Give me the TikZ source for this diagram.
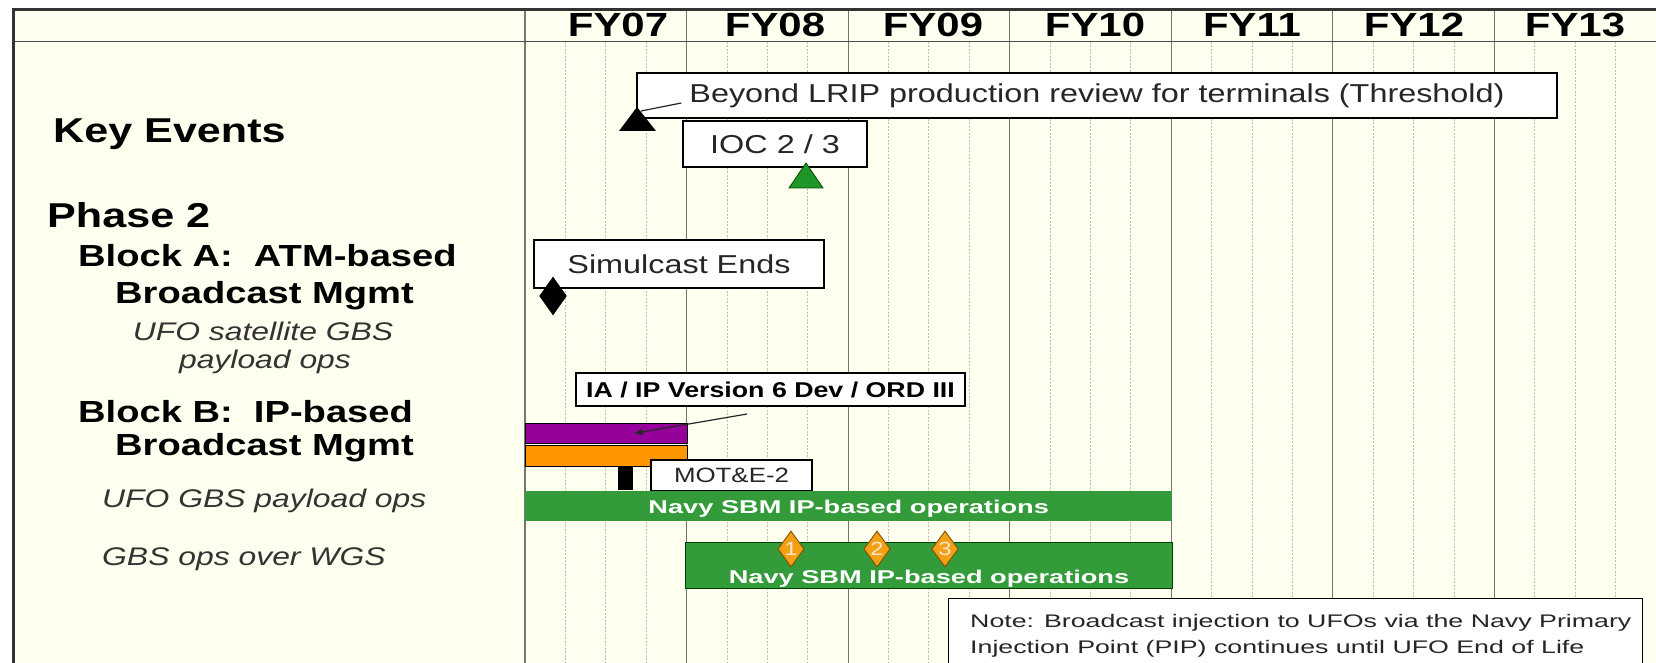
\documentclass[tikz,border=0pt]{standalone}
\usepackage{fontspec}
\setmainfont{Liberation Sans}[FakeStretch=1.25]
\newfontfamily\widefont{Liberation Sans}[FakeStretch=1.47]
\usetikzlibrary{shapes.geometric,arrows.meta}

\definecolor{paper}{RGB}{255,255,240}
\definecolor{gridmajor}{RGB}{118,118,110}
\definecolor{gridminor}{RGB}{192,192,182}
\definecolor{barpurple}{RGB}{150,0,155}
\definecolor{barorange}{RGB}{255,150,0}
\definecolor{bargreen}{RGB}{52,155,58}
\definecolor{ivgreen}{RGB}{30,150,40}
\definecolor{msorange}{RGB}{244,160,20}
\definecolor{msedge}{RGB}{130,80,0}

\tikzset{
  evbox/.style={draw=black, line width=1.3pt, fill=white, inner sep=0pt,
    text=black!85, font=\fontsize{25.9}{25.9}\selectfont},
  leftbold/.style={inner sep=0pt, anchor=base west, font=\bfseries\fontsize{30.5}{30.5}\selectfont},
  lefthead/.style={inner sep=0pt, anchor=base west, font=\bfseries\fontsize{34.5}{34.5}\selectfont},
  leftital/.style={inner sep=0pt, text=black!80, font=\itshape\fontsize{25.5}{25.5}\selectfont},
  yearlab/.style={inner sep=0pt, anchor=base, font=\bfseries\fontsize{33.5}{33.5}\selectfont},
  minorgrid/.style={draw=gridminor, line width=0.9pt, dash pattern=on 2pt off 1.5pt},
  majorgrid/.style={draw=gridmajor, line width=1.2pt},
  bar/.style={anchor=north west, inner sep=0pt, draw=black, line width=1pt},
  navytext/.style={text=white, inner sep=0pt, anchor=base, font=\widefont\bfseries\fontsize{18.5}{18.5}\selectfont},
  milestone/.style={shape=diamond, draw=msedge, line width=0.9pt, fill=msorange,
    minimum width=25pt, minimum height=36pt, inner sep=0pt,
    text=white!80!orange, font=\fontsize{19}{19}\selectfont},
  callout/.style={draw=black!85, line width=1.2pt},
  notetext/.style={inner sep=0pt, anchor=base west, text=black!85,
    font=\widefont\fontsize{18.2}{18.2}\selectfont}
}

\begin{document}
\begin{tikzpicture}[x=1pt,y=-1pt]
\clip (0,0) rectangle (1656,663);
\fill[white] (0,0) rectangle (1656,663);
\fill[paper] (13,10) rectangle (1656,663);

% quarter lines and year dividers
\foreach \k in {0,...,6}{
  \foreach \q in {1,2,3}{
    \draw[minorgrid] ({525+161.57*\k+40.39*\q},42) -- ++(0,630);
  }
}
\foreach \k in {0,...,6}{
  \draw[majorgrid] ({525+161.57*\k},10) -- ++(0,660);
}

% frame and header rule
\draw[line width=1.8pt, black!70] (13.5,41.5) -- (1656,41.5);
\draw[line width=3pt, black!80] (13.5,680) -- (13.5,10) -- (1656,10);

% fiscal years
\foreach \lab/\xc [count=\i from 0] in {FY07/618,FY08/775,FY09/933,FY10/1095,FY11/1252,FY12/1414,FY13/1575}{
  \node[yearlab] (fy\i) at (\xc,37) {\lab};
}

% row titles
\node[lefthead] (keyev) at (53,143) {Key Events};
\node[lefthead] (phase) at (47,227) {Phase 2};
\node[leftbold] (blkAa) at (78,266) {Block A:\ \ ATM-based};
\node[leftbold] (blkAb) at (115,303) {Broadcast Mgmt};
\node[leftital, anchor=base] (ufoAa) at (263,340) {UFO satellite GBS};
\node[leftital, anchor=base] (ufoAb) at (265,368) {payload ops};
\node[leftbold] (blkBa) at (78,422) {Block B:\ \ IP-based};
\node[leftbold] (blkBb) at (115,455) {Broadcast Mgmt};
\node[leftital, anchor=base west] (ufoB) at (102,507) {UFO GBS payload ops};
\node[leftital, anchor=base west] (wgs) at (102,565) {GBS ops over WGS};

% key events
\node[evbox, minimum width=920pt, minimum height=45pt] (lrip) at (1097,95.5)
  {Beyond LRIP production review for terminals (Threshold)};
\node[evbox, minimum width=184pt, minimum height=46pt] (ioc) at (775,144) {IOC 2 / 3};
\coordinate (lripTail) at ([xshift=45pt,yshift=-7.5pt]lrip.west);
\coordinate (lripMark) at (641,111);
\draw[callout] (lripTail) -- (lripMark);
\fill[black] (637,107) -- (656,131) -- (619,131) -- cycle;
\filldraw[fill=ivgreen, draw=black!70!green, line width=0.8pt] (806,163) -- (823,188) -- (789,188) -- cycle;

% block A
\node[evbox, minimum width=290pt, minimum height=48pt] (simul) at (679,264) {Simulcast Ends};
\node[shape=diamond, fill=black, draw=black, inner sep=0pt, minimum width=27pt, minimum height=38pt] (simEnd) at (553,296) {};

% block B
\node[evbox, minimum width=389pt, minimum height=33pt, font=\bfseries\fontsize{21.4}{21.4}\selectfont, text=black] (iadev) at (770.5,389.5)
  {IA / IP Version 6 Dev / ORD III};
\node[bar, fill=barpurple, minimum width=162pt, minimum height=20pt] (iaBar) at (525,423) {};
\node[bar, fill=barorange, minimum width=162pt, minimum height=21pt] (ordBar) at (525,445) {};
\node[anchor=north west, inner sep=0pt, fill=black, minimum width=15pt, minimum height=24pt] (moteMark) at (618,466) {};
\node[evbox, minimum width=161pt, minimum height=31pt, font=\fontsize{20.7}{20.7}\selectfont] (mote) at (731.5,475.5) {MOT\&E-2};
\coordinate (iaTail) at (747,414);
\coordinate (iaTip) at ([xshift=27pt]iaBar.center);
\draw[callout, -{Latex[length=9pt,width=7pt]}] (iaTail) -- (iaTip);

% operations bars
\node[anchor=north west, inner sep=0pt, fill=bargreen, minimum width=647pt, minimum height=30pt] (opsA) at (525,491) {};
\node[navytext] (opsAtxt) at ([yshift=-7.5pt]opsA.center) {Navy SBM IP-based operations};
\node[bar, fill=bargreen, draw=black!75!green, minimum width=487pt, minimum height=46pt] (opsB) at (685,542) {};
\node[navytext] (opsBtxt) at ([yshift=-18pt]opsB.center) {Navy SBM IP-based operations};
\node[milestone] (ms1) at (791,549) {1};
\node[milestone] (ms2) at (877,549) {2};
\node[milestone] (ms3) at (945,549) {3};

% note
\node[evbox, anchor=north west, minimum width=694pt, minimum height=90pt] (note) at (948,598) {};
\node[notetext] (noteA) at (970,627) {Note: Broadcast injection to UFOs via the Navy Primary};
\node[notetext] (noteB) at (970,653) {Injection Point (PIP) continues until UFO End of Life};
\end{tikzpicture}
\end{document}
